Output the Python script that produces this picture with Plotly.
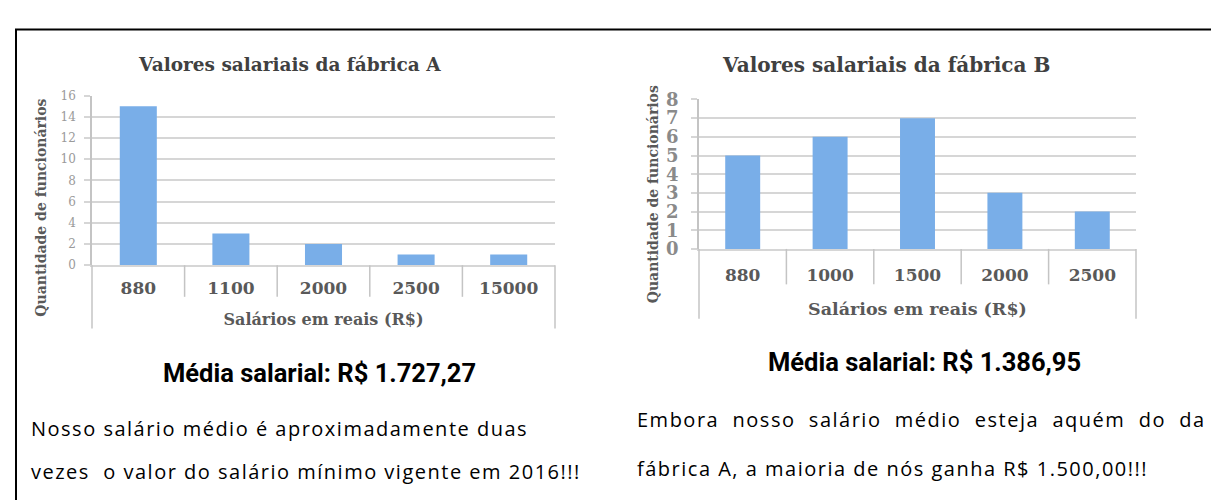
import plotly.graph_objects as go

W, H = 1219, 500

# ---- data ----
cat_a = ["880", "1100", "2000", "2500", "15000"]
val_a = [15, 3, 2, 1, 1]
cat_b = ["880", "1000", "1500", "2000", "2500"]
val_b = [5, 6, 7, 3, 2]
title_a = "Valores salariais da fábrica A"
title_b = "Valores salariais da fábrica B"
x_title = "Salários em reais (R$)"
y_title = "Quantidade de funcionários"
media_a = "Média salarial: R$ 1.727,27"
media_b = "Média salarial: R$ 1.386,95"
text_a = ["Nosso salário médio é aproximadamente duas",
          "vezes  o valor do salário mínimo vigente em 2016!!!"]
text_b = ["Embora nosso salário médio esteja aquém do da",
          "fábrica A, a maioria de nós ganha R$ 1.500,00!!!"]

SERIF = "DejaVu Serif, Liberation Serif, serif"
SANS = "Roboto, Open Sans, sans-serif"
BODY = "Open Sans, Lato, sans-serif"
BAR = "#79aee8"
GRID = "#d6d6d6"
VLINE = "#c4c4c4"


def px(x):
    return x / W


def py(y):
    return 1 - y / H


# plot-area pixel boxes (left, right, top, bottom) and extension depths
A = dict(l=84, r=547, t=80, b=257, div=290, ext=323)
B = dict(l=691, r=1128, t=84, b=240, div=277, ext=313)

fig = go.Figure()
fig.add_trace(go.Bar(x=cat_a, y=val_a, marker=dict(color=BAR, line=dict(width=0)),
                     xaxis="x", yaxis="y", showlegend=False))
fig.add_trace(go.Bar(x=cat_b, y=val_b, marker=dict(color=BAR, line=dict(width=0)),
                     xaxis="x2", yaxis="y2", showlegend=False))


def xax(box, standoff, size, tsize, tstand):
    return dict(domain=[px(box["l"]), px(box["r"])], type="category",
                showgrid=False, showline=True, linecolor=GRID, linewidth=2,
                ticks="", ticklabelstandoff=standoff,
                tickfont=dict(family=SERIF, size=size, color="#595959", weight="bold"),
                title=dict(text=x_title, standoff=tstand,
                           font=dict(family=SERIF, size=tsize, color="#595959", weight="bold")),
                fixedrange=True)


def yax(box, rng, dtick, size, color, weight, ticklen, standoff):
    return dict(domain=[py(box["b"]), py(box["t"])], range=rng, dtick=dtick,
                showgrid=True, gridcolor=GRID, gridwidth=2, zeroline=False,
                showline=True, linecolor=VLINE, linewidth=1.5,
                ticks="outside", ticklen=ticklen, tickcolor=GRID, tickwidth=2,
                ticklabelstandoff=standoff,
                tickfont=dict(family=SERIF, size=size, color=color, weight=weight),
                fixedrange=True)


fig.update_layout(
    width=W, height=H, margin=dict(l=0, r=0, t=0, b=0),
    paper_bgcolor="white", plot_bgcolor="white", bargap=0.6,
    xaxis=dict(xax(A, 6, 17, 16, 17), anchor="y"),
    yaxis=dict(yax(A, [0, 16], 2, 12, "#9a9a9a", "normal", 6, 6), anchor="x"),
    xaxis2=dict(xax(B, 10, 17, 17.5, 18), anchor="y2"),
    yaxis2=dict(yax(B, [0, 8], 1, 18, "#8a8a8a", "bold", 6, 9), anchor="x2"),
)

shapes = []
# outer frame (top + left edges visible)
shapes.append(dict(type="rect", xref="paper", yref="paper", x0=px(8), x1=1.05,
                   y0=-0.05, y1=py(11), line=dict(color="black", width=2)))
for box, xd, n in ((A, "x domain", len(cat_a)), (B, "x2 domain", len(cat_b))):
    # axis-line extensions below the plot
    for xx in (box["l"], box["r"]):
        shapes.append(dict(type="line", xref="paper", yref="paper", x0=px(xx), x1=px(xx),
                           y0=py(box["b"]), y1=py(box["ext"]), line=dict(color=VLINE, width=1.5)))
    # category dividers
    for i in range(1, n):
        shapes.append(dict(type="line", xref=xd, yref="paper", x0=i / n, x1=i / n,
                           y0=py(box["b"]), y1=py(box["div"]), line=dict(color=VLINE, width=1.5)))
fig.update_layout(shapes=shapes)

ann = []


def add(text, x, y, size, family, color="black", weight="normal", xanchor="center", angle=0):
    ann.append(dict(text=text, x=px(x), y=py(y), xref="paper", yref="paper", showarrow=False,
                    xanchor=xanchor, yanchor="middle", textangle=angle,
                    font=dict(family=family, size=size, color=color, weight=weight)))


def spaced(t, ls=1.5, extra_gap=0):
    if extra_gap:
        t = t.replace(" ", "\u00a0" * extra_gap + " ")
    return '<span style="letter-spacing:%spx">%s</span>' % (ls, t)


add(title_a, 281, 48, 18.5, SERIF, "#404040", "bold")
add(title_b, 878, 48, 20, SERIF, "#404040", "bold")
add(y_title, 33, 197, 14, SERIF, "#595959", "bold", angle=-90)
add(y_title, 645, 183, 14, SERIF, "#595959", "bold", angle=-90)
add(media_a, 311, 369, 25.5, SANS, "black", "bold")
add(media_b, 916, 358, 25.5, SANS, "black", "bold")
add(spaced(text_a[0]), 21, 427, 20, BODY, xanchor="left")
add(spaced(text_a[1]), 21, 472, 20, BODY, xanchor="left")
add(spaced(text_b[0], extra_gap=1), 627, 418, 20, BODY, xanchor="left")
add(spaced(text_b[1]), 627, 469, 20, BODY, xanchor="left")
fig.update_layout(annotations=ann)

fig.write_html("out.html", config={"displayModeBar": False})
